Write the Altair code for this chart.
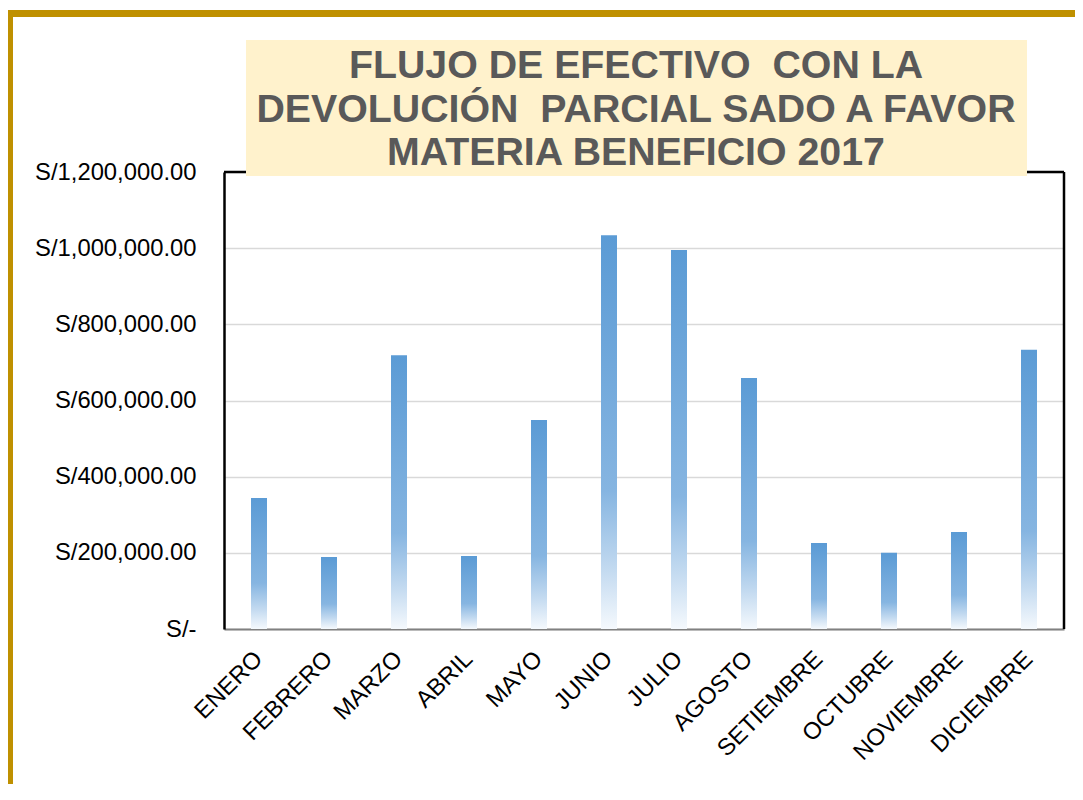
import altair as alt
import pandas as pd

meses = ["ENERO", "FEBRERO", "MARZO", "ABRIL", "MAYO", "JUNIO", "JULIO",
         "AGOSTO", "SETIEMBRE", "OCTUBRE", "NOVIEMBRE", "DICIEMBRE"]
valores = [344000, 189000, 719000, 192000, 549000, 1034000, 995000,
           659000, 226000, 200000, 255000, 733000]
y_ticks = [0, 200000, 400000, 600000, 800000, 1000000, 1200000]
titulo = ["FLUJO DE EFECTIVO \u00a0CON LA",
          "DEVOLUCIÓN \u00a0PARCIAL SADO A FAVOR",
          "MATERIA BENEFICIO 2017"]

df = pd.DataFrame({"mes": meses, "valor": valores})
one = pd.DataFrame({"k": [0]})

W, H = 840, 457
FONT = "Liberation Sans"

grad = alt.Gradient(
    gradient="linear", x1=0, x2=0, y1=0, y2=1,
    stops=[
        alt.GradientStop(offset=0, color="#5B9BD5"),
        alt.GradientStop(offset=0.65, color="#86B5E1"),
        alt.GradientStop(offset=0.85, color="#C3DAF0"),
        alt.GradientStop(offset=1, color="#F5F9FD"),
    ],
)

bars = alt.Chart(df).mark_bar(size=16, fill=grad).encode(
    x=alt.X("mes:N", sort=meses, title=None,
            scale=alt.Scale(paddingInner=0, paddingOuter=0),
            axis=alt.Axis(labelAngle=315, labelAlign="right", labelBaseline="middle",
                          labelFontSize=23.8, labelFont=FONT, labelColor="#000000",
                          labelPadding=26, ticks=False, domainColor="#808080",
                          domainWidth=2, labelOverlap=False)),
    y=alt.Y("valor:Q", title=None,
            scale=alt.Scale(domain=[0, 1200000], nice=False),
            axis=alt.Axis(values=y_ticks, ticks=False, labelFontSize=23.8, labelFont=FONT,
                          labelColor="#000000", labelPadding=28,
                          domainColor="#000000", domainWidth=2.5,
                          gridColor="#D9D9D9", gridWidth=1.5,
                          labelExpr="datum.value == 0 ? 'S/-\u00a0\u00a0' : 'S/' + format(datum.value, ',.2f')")),
)

frame_top = alt.Chart(one).mark_rule(color="#000000", strokeWidth=2.5).encode(
    x=alt.value(0), x2=alt.value(W), y=alt.value(0))
frame_right = alt.Chart(one).mark_rule(color="#000000", strokeWidth=2.5).encode(
    x=alt.value(W), y=alt.value(0), y2=alt.value(H))

title_box = alt.Chart(one).mark_rect(color="#FFF2CC").encode(
    x=alt.value(22), x2=alt.value(803), y=alt.value(-132), y2=alt.value(4))
title_text = alt.Chart(one).mark_text(
    font=FONT, fontSize=39.3, fontWeight="bold", color="#595959",
    align="center", baseline="alphabetic", lineHeight=43.5,
).encode(x=alt.value(412), y=alt.value(-94), text=alt.value(titulo))

gold_left = alt.Chart(one).mark_rule(color="#BF9000", strokeWidth=7).encode(
    x=alt.value(-214.5), y=alt.value(-162), y2=alt.value(H + 160))
gold_top = alt.Chart(one).mark_rule(color="#BF9000", strokeWidth=7).encode(
    x=alt.value(-218), x2=alt.value(W + 20), y=alt.value(-158.5))

chart = alt.layer(bars, frame_top, frame_right, title_box, title_text, gold_left, gold_top).properties(
    width=W, height=H,
    autosize=alt.AutoSizeParams(type="none"),
    padding={"left": 216, "top": 164, "right": 11, "bottom": 155},
    background="#FFFFFF",
).configure_view(stroke=None)

chart.save("out.html", embed_options={"renderer": "svg", "actions": False})
